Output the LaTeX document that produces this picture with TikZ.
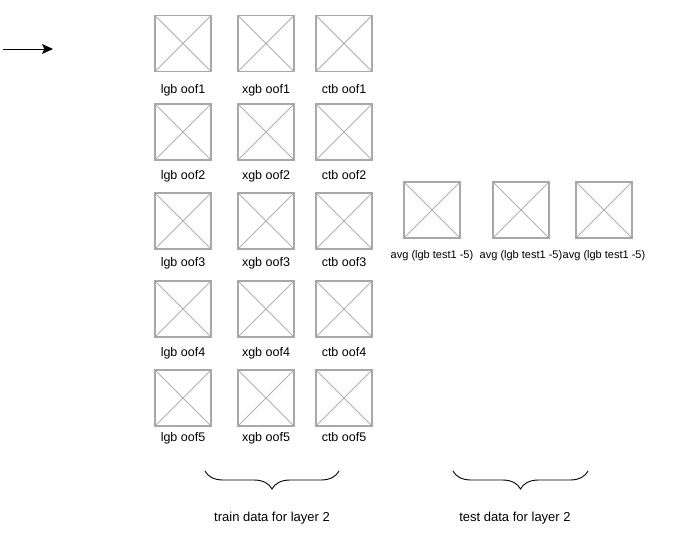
\documentclass[tikz,border=0pt]{standalone}
\usepackage{fontspec}
\setmainfont{Liberation Sans}
\usetikzlibrary{arrows.meta,decorations.pathreplacing}
\tikzset{
  imgbox/.style={draw=gray!68, line width=1.1pt, minimum size=56pt, inner sep=0pt,
    path picture={\draw[gray!62, line width=0.75pt]
      (path picture bounding box.north west) -- (path picture bounding box.south east)
      (path picture bounding box.north east) -- (path picture bounding box.south west);}},
  boxlabel/.style={anchor=base, inner sep=0pt, font=\fontsize{12.5}{15}\selectfont},
  testlabel/.style={anchor=base, inner sep=0pt, font=\fontsize{11}{13}\selectfont},
  bracelabel/.style={anchor=base, inner sep=0pt, font=\fontsize{13}{15}\selectfont},
  databrace/.style={decorate, decoration={brace, mirror, amplitude=18pt}, line width=0.9pt}
}
\begin{document}
\begin{tikzpicture}[x=1pt,y=-1pt]
    \useasboundingbox (0,0) rectangle (680,533);
    % incoming arrow
    \coordinate (in start) at (3,49);
    \coordinate (in end) at (53,49);
    \draw[-{Stealth[length=11pt,width=10pt,inset=2.5pt]}, line width=1pt] (in start) -- (in end);
    % out-of-fold predictions
    \node[imgbox] (lgb1) at (183,43.5) {};
    \node[imgbox] (xgb1) at (266,43.5) {};
    \node[imgbox] (ctb1) at (344,43.5) {};
    \node[boxlabel] (lgb1 text) at (183,93) {lgb oof1};
    \node[boxlabel] (xgb1 text) at (266,93) {xgb oof1};
    \node[boxlabel] (ctb1 text) at (344,93) {ctb oof1};
    \node[imgbox] (lgb2) at (183,132) {};
    \node[imgbox] (xgb2) at (266,132) {};
    \node[imgbox] (ctb2) at (344,132) {};
    \node[boxlabel] (lgb2 text) at (183,179.5) {lgb oof2};
    \node[boxlabel] (xgb2 text) at (266,179.5) {xgb oof2};
    \node[boxlabel] (ctb2 text) at (344,179.5) {ctb oof2};
    \node[imgbox] (lgb3) at (183,221) {};
    \node[imgbox] (xgb3) at (266,221) {};
    \node[imgbox] (ctb3) at (344,221) {};
    \node[boxlabel] (lgb3 text) at (183,266.5) {lgb oof3};
    \node[boxlabel] (xgb3 text) at (266,266.5) {xgb oof3};
    \node[boxlabel] (ctb3 text) at (344,266.5) {ctb oof3};
    \node[imgbox] (lgb4) at (183,309) {};
    \node[imgbox] (xgb4) at (266,309) {};
    \node[imgbox] (ctb4) at (344,309) {};
    \node[boxlabel] (lgb4 text) at (183,356) {lgb oof4};
    \node[boxlabel] (xgb4 text) at (266,356) {xgb oof4};
    \node[boxlabel] (ctb4 text) at (344,356) {ctb oof4};
    \node[imgbox] (lgb5) at (183,398) {};
    \node[imgbox] (xgb5) at (266,398) {};
    \node[imgbox] (ctb5) at (344,398) {};
    \node[boxlabel] (lgb5 text) at (183,441.5) {lgb oof5};
    \node[boxlabel] (xgb5 text) at (266,441.5) {xgb oof5};
    \node[boxlabel] (ctb5 text) at (344,441.5) {ctb oof5};
    % averaged test predictions
    \node[imgbox] (avg1) at (432,210) {};
    \node[imgbox] (avg2) at (521,210) {};
    \node[imgbox] (avg3) at (604,210) {};
    \node[testlabel] (avg1 text) at (432,258) {avg (lgb test1 -5)};
    \node[testlabel] (avg2 text) at (521,258) {avg (lgb test1 -5)};
    \node[testlabel] (avg3 text) at (604,258) {avg (lgb test1 -5)};
    % braces
    \coordinate (train left) at (205,471);
    \coordinate (train right) at (339,471);
    \coordinate (test left) at (453,471);
    \coordinate (test right) at (588,471);
    \draw[databrace] (train left) -- (train right);
    \draw[databrace] (test left) -- (test right);
    \node[bracelabel] (train text) at (272,521) {train data for layer 2};
    \node[bracelabel] (test text) at (515,521) {test data for layer 2};
\end{tikzpicture}
\end{document}
